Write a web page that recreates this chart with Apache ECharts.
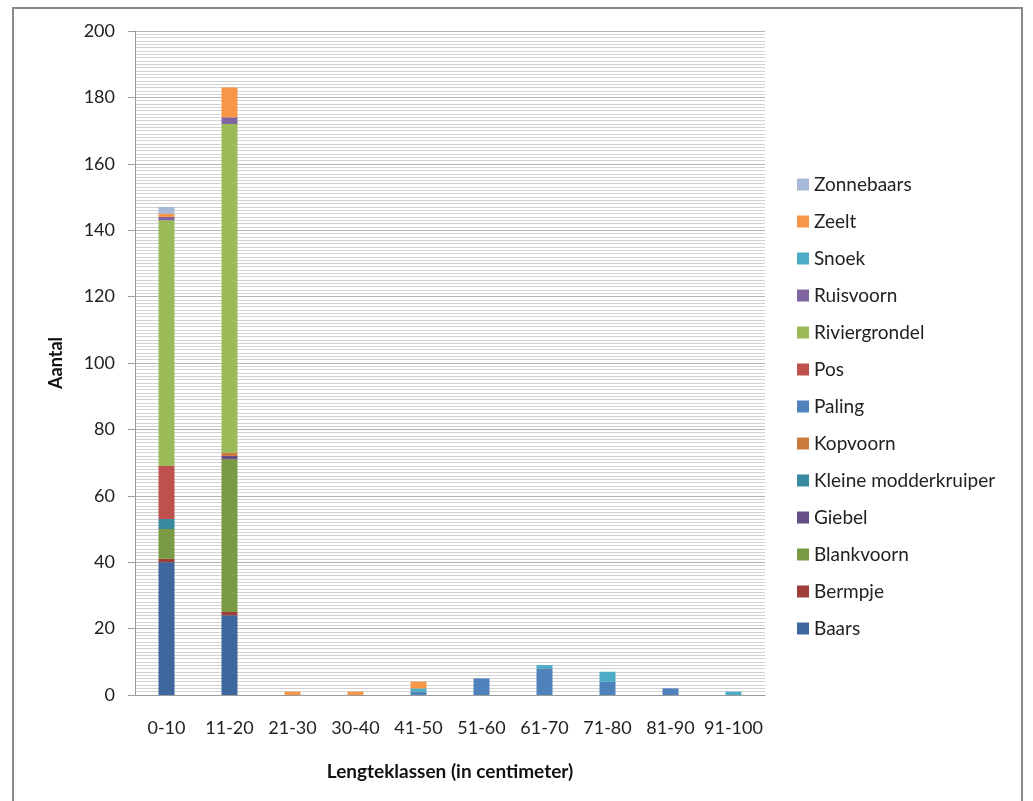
<!DOCTYPE html>
<html>
<head>
<meta charset="utf-8">
<script src="https://cdn.jsdelivr.net/npm/echarts@6/dist/echarts.min.js"></script>
<style>
  html, body { margin: 0; padding: 0; background: #fff; }
  #chart { width: 1033px; height: 801px; }
</style>
</head>
<body>
<div id="chart"></div>
<script>
// Length classes (cm) on the x axis
const categories = ['0-10', '11-20', '21-30', '30-40', '41-50', '51-60', '61-70', '71-80', '81-90', '91-100'];

// Catch counts per species for each length class
const baars               = [40, 24, 0, 0, 0, 0, 0, 0, 0, 0];
const bermpje             = [1, 1, 0, 0, 0, 0, 0, 0, 0, 0];
const blankvoorn          = [9, 46, 0, 0, 0, 0, 0, 0, 0, 0];
const giebel              = [0, 1, 0, 0, 0, 0, 0, 0, 0, 0];
const kleineModderkruiper = [3, 0, 0, 0, 0, 0, 0, 0, 0, 0];
const kopvoorn            = [0, 1, 0, 0, 0, 0, 0, 0, 0, 0];
const paling              = [0, 0, 0, 0, 1, 5, 8, 4, 2, 0];
const pos                 = [16, 0, 0, 0, 0, 0, 0, 0, 0, 0];
const riviergrondel       = [74, 99, 0, 0, 0, 0, 0, 0, 0, 0];
const ruisvoorn           = [1, 2, 0, 0, 0, 0, 0, 0, 0, 0];
const snoek               = [0, 0, 0, 0, 1, 0, 1, 3, 0, 1];
const zeelt               = [1, 9, 1, 1, 2, 0, 0, 0, 0, 0];
const zonnebaars          = [2, 0, 0, 0, 0, 0, 0, 0, 0, 0];

// Stack order, bottom to top
const speciesNames = ['Baars', 'Bermpje', 'Blankvoorn', 'Giebel', 'Kleine modderkruiper', 'Kopvoorn',
  'Paling', 'Pos', 'Riviergrondel', 'Ruisvoorn', 'Snoek', 'Zeelt', 'Zonnebaars'];
const speciesData = [baars, bermpje, blankvoorn, giebel, kleineModderkruiper, kopvoorn,
  paling, pos, riviergrondel, ruisvoorn, snoek, zeelt, zonnebaars];
const speciesColors = ['#3D679D', '#9E3E3B', '#7B9A45', '#654F86', '#378AA0', '#CC7A3A',
  '#4F81BD', '#C0504D', '#9BBB59', '#8064A2', '#4BACC6', '#F79646', '#A8B9D8'];

const yTicks = { min: 0, max: 200, interval: 20 };

const FONT = 'Lato, "Open Sans", sans-serif';

const chart = echarts.init(document.getElementById('chart'), null, { renderer: 'canvas' });

const series = speciesNames.map((name, i) => ({
  name: name,
  type: 'bar',
  stack: 'totaal',
  barWidth: 16,
  data: speciesData[i],
  itemStyle: { color: speciesColors[i] },
  emphasis: { disabled: true }
}));

chart.setOption({
  animation: false,
  backgroundColor: '#ffffff',
  graphic: [{
    type: 'rect',
    shape: { x: 13, y: 8, width: 1009, height: 820 },
    style: { fill: 'none', stroke: '#8a8a8a', lineWidth: 2 },
    silent: true,
    z: 100
  }],
  grid: { left: 135, right: 268, top: 31, bottom: 106 },
  legend: {
    orient: 'vertical',
    left: 792,
    top: 170,
    itemWidth: 12,
    itemHeight: 12,
    itemGap: 18,
    icon: 'rect',
    data: speciesNames.slice().reverse(),
    textStyle: { fontFamily: FONT, fontSize: 19, color: '#222', padding: [0, 0, 0, 0] },
    selectedMode: false
  },
  xAxis: {
    type: 'category',
    data: categories,
    name: 'Lengteklassen (in centimeter)',
    nameLocation: 'middle',
    nameGap: 67,
    nameTextStyle: { fontFamily: FONT, fontSize: 19, fontWeight: 'bold', color: '#111' },
    axisLine: { lineStyle: { color: '#9a9a9a', width: 1 } },
    axisTick: { show: false },
    axisLabel: { interval: 0, fontFamily: FONT, fontSize: 18, color: '#222', margin: 24 },
    splitLine: { show: false }
  },
  yAxis: {
    type: 'value',
    min: yTicks.min,
    max: yTicks.max,
    interval: yTicks.interval,
    name: 'Aantal',
    nameLocation: 'middle',
    nameGap: 70,
    nameRotate: 90,
    nameTextStyle: { fontFamily: FONT, fontSize: 18, fontWeight: 'bold', color: '#111' },
    axisLine: { show: true, lineStyle: { color: '#9a9a9a', width: 1 } },
    axisTick: { show: true, inside: false, length: 7, lineStyle: { color: '#9a9a9a' } },
    axisLabel: { fontFamily: FONT, fontSize: 18, color: '#222', margin: 20 },
    splitLine: { show: true, lineStyle: { color: '#b4b4b4', width: 1 } },
    minorTick: { show: false, splitNumber: 20 },
    minorSplitLine: { show: true, lineStyle: { color: '#d2d2d2', width: 1 } }
  },
  series: series
});
</script>
</body>
</html>
